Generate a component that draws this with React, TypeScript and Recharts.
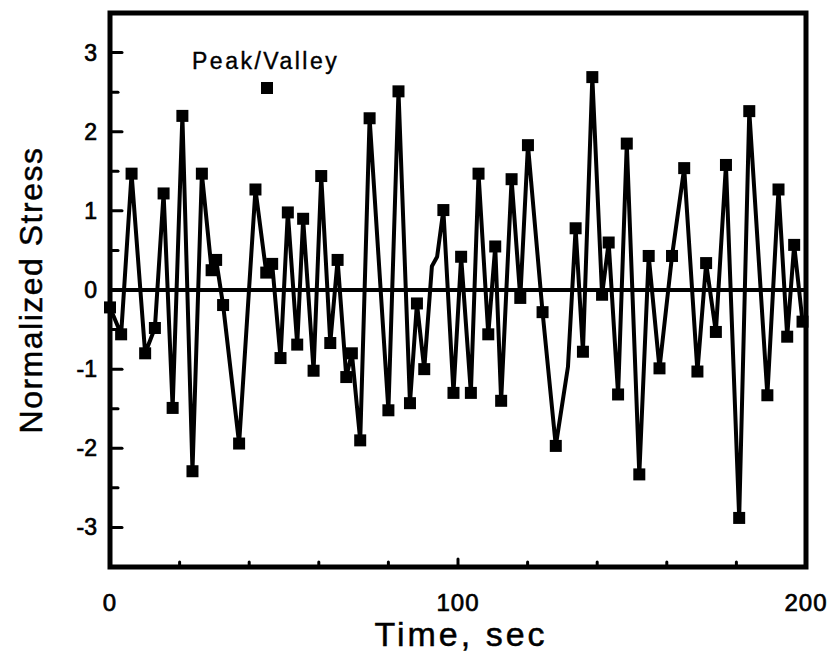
import React from 'react';
import {
  LineChart,
  Line,
  XAxis,
  YAxis,
  ReferenceLine,
  ReferenceArea,
  Label,
} from 'recharts';

// time (sec) of each point on the trace
const times = [
  0, 3.2, 6.2, 10.1, 12.9, 15.4, 18.0, 20.8, 23.7, 26.4,
  29.2, 30.5, 32.5, 37.1, 41.8, 44.9, 46.6, 49.0, 51.1, 53.8,
  55.5, 58.5, 60.7, 63.3, 65.4, 67.9, 69.5, 71.9, 74.6, 80.0,
  82.9, 86.2, 88.2, 90.3, 92.5, 94.0, 95.8, 98.7, 100.9, 103.7,
  105.9, 108.7, 110.7, 112.4, 115.4, 117.9, 120.1, 124.3, 128.1, 131.6,
  133.8, 135.9, 138.6, 141.4, 143.3, 146.0, 148.5, 152.1, 154.8, 157.9,
  161.5, 165.0, 168.8, 171.3, 174.1, 177.0, 180.8, 183.7, 188.9, 192.1,
  194.6, 196.6, 199.0,
];

// normalized stress at each time
const stress = [
  -0.22, -0.56, 1.47, -0.8, -0.48, 1.22, -1.49, 2.2, -2.29, 1.47,
  0.25, 0.38, -0.19, -1.94, 1.27, 0.22, 0.33, -0.86, 0.98, -0.69,
  0.9, -1.02, 1.44, -0.67, 0.38, -1.1, -0.8, -1.9, 2.17, -1.52,
  2.51, -1.43, -0.17, -1.0, 0.3, 0.42, 1.01, -1.3, 0.42, -1.3,
  1.47, -0.56, 0.55, -1.4, 1.4, -0.1, 1.83, -0.28, -1.97, -0.97,
  0.78, -0.78, 2.69, -0.06, 0.6, -1.32, 1.85, -2.33, 0.43, -0.99,
  0.43, 1.54, -1.03, 0.34, -0.53, 1.58, -2.88, 2.26, -1.33, 1.27,
  -0.59, 0.57, -0.4,
];

// 1 = peak/valley point (square marker), 0 = plain trace point
const marked = [
  1, 1, 1, 1, 1, 1, 1, 1, 1, 1,
  1, 1, 1, 1, 1, 1, 1, 1, 1, 1,
  1, 1, 1, 1, 1, 1, 1, 1, 1, 1,
  1, 1, 1, 1, 0, 0, 1, 1, 1, 1,
  1, 1, 1, 1, 1, 1, 1, 1, 1, 0,
  1, 1, 1, 1, 1, 1, 1, 1, 1, 1,
  1, 1, 1, 1, 1, 1, 1, 1, 1, 1,
  1, 1, 1,
];

const xTicks = [0, 20, 40, 60, 80, 100, 120, 140, 160, 180, 200];
const xLabels = [0, 100, 200];
const yTicks = [-3, -2.5, -2, -1.5, -1, -0.5, 0, 0.5, 1, 1.5, 2, 2.5, 3];

const data = times.map((t, i) => ({ t, v: stress[i], pv: marked[i] === 1 }));

const FONT = '"Liberation Sans", Arial, Helvetica, sans-serif';

const SquareDot = (props: any) => {
  const { cx, cy, payload, index } = props;
  if (!payload.pv) return <g key={`d${index}`} />;
  return <rect key={`d${index}`} x={cx - 6} y={cy - 6} width={12} height={12} fill="#000" />;
};

const YTick = (props: any) => {
  const { x, y, payload } = props;
  const whole = Number.isInteger(payload.value);
  return (
    <g>
      <line x1={x} y1={y} x2={x + (whole ? 12 : 8)} y2={y} stroke="#000" strokeWidth={3} strokeLinecap="round" />
      {whole && (
        <text
          x={x - 13}
          y={y + 8}
          textAnchor="end"
          fontSize={23}
          fontFamily={FONT}
          fill="#000"
          stroke="#000"
          strokeWidth={0.7}
        >
          {payload.value}
        </text>
      )}
    </g>
  );
};

const XTick = (props: any) => {
  const { x, y, payload } = props;
  const v = payload.value;
  const edge = v === 0 || v === 200;
  return (
    <g>
      {!edge && (
        <line x1={x} y1={y} x2={x} y2={y - (v === 100 ? 8 : 5)} stroke="#000" strokeWidth={3} strokeLinecap="round" />
      )}
      {xLabels.includes(v) && (
        <text
          x={x}
          y={y + 44}
          textAnchor="middle"
          fontSize={24}
          fontFamily={FONT}
          fill="#000"
          stroke="#000"
          strokeWidth={0.7}
          letterSpacing={1}
        >
          {v}
        </text>
      )}
    </g>
  );
};

const App: React.FC = () => {
  return (
    <div style={{ position: 'absolute', left: 0, top: 0, width: 829, height: 656, background: '#fff' }}>
      <LineChart width={829} height={656} data={data} margin={{ top: 13, right: 23, bottom: 0, left: 0 }}>
        <XAxis
          dataKey="t"
          type="number"
          domain={[0, 200]}
          ticks={xTicks}
          interval={0}
          axisLine={false}
          tickLine={false}
          tickSize={0}
          tickMargin={0}
          height={89}
          tick={<XTick />}
        >
          <Label
            content={() => (
              <text
                x={461}
                y={646}
                textAnchor="middle"
                fontSize={34}
                fontFamily={FONT}
                fill="#000"
                stroke="#000"
                strokeWidth={0.5}
                letterSpacing={3}
              >
                Time, sec
              </text>
            )}
          />
        </XAxis>
        <YAxis
          type="number"
          domain={[-3.5, 3.5]}
          ticks={yTicks}
          interval={0}
          axisLine={false}
          tickLine={false}
          tickSize={0}
          tickMargin={0}
          width={110}
          tick={<YTick />}
        >
          <Label
            content={() => (
              <text
                x={34}
                y={290}
                transform="rotate(-90 34 290)"
                textAnchor="middle"
                dominantBaseline="middle"
                fontSize={32}
                fontFamily={FONT}
                fill="#000"
                stroke="#000"
                strokeWidth={0.5}
                letterSpacing={1.5}
              >
                Normalized Stress
              </text>
            )}
          />
        </YAxis>
        <ReferenceArea x1={0} x2={200} y1={-3.5} y2={3.5} fill="none" stroke="#000" strokeWidth={5} ifOverflow="extendDomain" />
        <ReferenceLine y={0} stroke="#000" strokeWidth={4} />
        <Line
          type="linear"
          dataKey="v"
          stroke="#000"
          strokeWidth={4}
          strokeLinejoin="round"
          dot={SquareDot}
          activeDot={false}
          isAnimationActive={false}
        />
      </LineChart>
      <div
        style={{
          position: 'absolute',
          left: 192,
          top: 49,
          fontFamily: FONT,
          fontSize: 23,
          color: '#000',
          lineHeight: '24px',
          letterSpacing: 2.5,
          WebkitTextStroke: '0.4px #000',
        }}
      >
        Peak/Valley
      </div>
      <div style={{ position: 'absolute', left: 261, top: 82, width: 12, height: 12, background: '#000' }} />
    </div>
  );
};

export default App;
